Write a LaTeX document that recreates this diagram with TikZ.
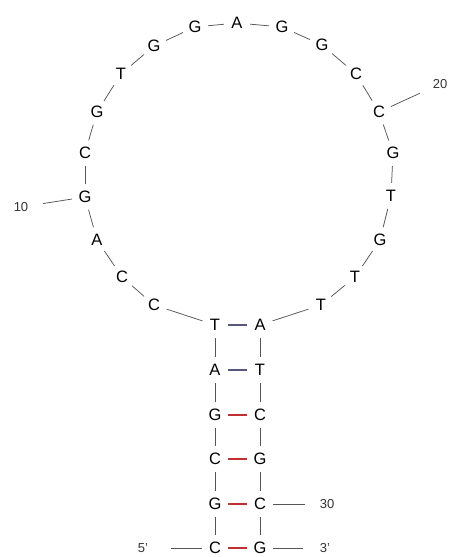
\documentclass[tikz,border=0pt]{standalone}
\usepackage{fontspec}
\setmainfont{Liberation Sans}
\definecolor{bb}{HTML}{555555}
\definecolor{at}{HTML}{55587A}
\definecolor{gc}{HTML}{C03030}
\definecolor{lab}{HTML}{333333}
\begin{document}
\begin{tikzpicture}[x=1pt,y=-1pt,
  base/.style={circle,minimum size=26pt,inner sep=0pt,font=\fontsize{16.5}{16.5}\selectfont},
  num/.style={circle,minimum size=44pt,inner sep=0pt,text=lab,font=\fontsize{13}{13}\selectfont},
  bone/.style={draw=bb,line width=0.75pt},
  atpair/.style={draw=at,line width=1.1pt},
  gcpair/.style={draw=gc,line width=1.1pt}]
\useasboundingbox (0,0) rectangle (451,557);
% nucleotides
\node[base] (n1) at (215,548) {C};
\node[base] (n2) at (215,504) {G};
\node[base] (n3) at (215,459) {C};
\node[base] (n4) at (215,415) {G};
\node[base] (n5) at (215,370) {A};
\node[base] (n6) at (215,325) {T};
\node[base] (n7) at (154,305) {C};
\node[base] (n8) at (122,277) {C};
\node[base] (n9) at (97,240) {A};
\node[base] (n10) at (85,197) {G};
\node[base] (n11) at (85,153) {C};
\node[base] (n12) at (97,112) {G};
\node[base] (n13) at (121,74) {T};
\node[base] (n14) at (154,46) {G};
\node[base] (n15) at (195,27) {G};
\node[base] (n16) at (237,23) {A};
\node[base] (n17) at (282,27) {G};
\node[base] (n18) at (322,45) {G};
\node[base] (n19) at (356,74) {C};
\node[base] (n20) at (379,112) {C};
\node[base] (n21) at (393,153) {G};
\node[base] (n22) at (391,196) {T};
\node[base] (n23) at (380,240) {G};
\node[base] (n24) at (355,277) {T};
\node[base] (n25) at (321,305) {T};
\node[base] (n26) at (260,325) {A};
\node[base] (n27) at (260,370) {T};
\node[base] (n28) at (260,415) {C};
\node[base] (n29) at (260,459) {G};
\node[base] (n30) at (260,504) {C};
\node[base] (n31) at (260,548) {G};
% labels
\node[num] (l10) at (21,207) {10};
\node[num] (l20) at (440,84) {20};
\node[num] (l30) at (327,504) {30};
\node[num,minimum size=56pt] (l5) at (143,548) {5'};
\node[num] (l3) at (325,548) {3'};
% backbone
\foreach \a/\b in {1/2,2/3,3/4,4/5,5/6,6/7,7/8,8/9,9/10,10/11,11/12,12/13,13/14,14/15,15/16,16/17,17/18,18/19,19/20,20/21,21/22,22/23,23/24,24/25,25/26,26/27,27/28,28/29,29/30,30/31}
  \draw[bone] (n\a) -- (n\b);
\draw[bone] (l10) -- (n10);
\draw[bone] (n20) -- (l20);
\draw[bone] (n30) -- (l30);
\draw[bone] (l5) -- (n1);
\draw[bone] (n31) -- (l3);
% base pairs
\draw[atpair] (n6) -- (n26);
\draw[atpair] (n5) -- (n27);
\draw[gcpair] (n4) -- (n28);
\draw[gcpair] (n3) -- (n29);
\draw[gcpair] (n2) -- (n30);
\draw[gcpair] (n1) -- (n31);
\end{tikzpicture}
\end{document}
